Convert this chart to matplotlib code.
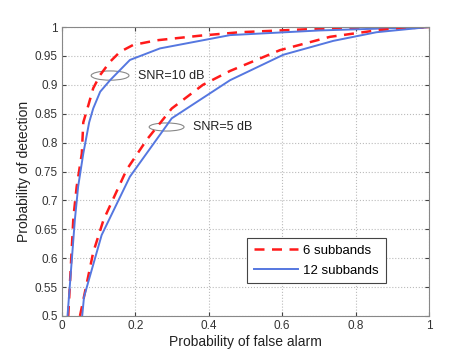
import matplotlib.pyplot as plt
from matplotlib.patches import Ellipse

# ROC curves
pf_10_6 = [0.017, 0.031, 0.04, 0.054, 0.058, 0.072, 0.085, 0.104, 0.131, 0.158, 0.194, 0.258, 0.376, 0.485, 0.7, 1.0]
pd_10_6 = [0.5, 0.67, 0.724, 0.781, 0.835, 0.865, 0.894, 0.917, 0.94, 0.957, 0.969, 0.977, 0.985, 0.991, 0.997, 1.0]
pf_10_12 = [0.015, 0.035, 0.044, 0.058, 0.074, 0.085, 0.104, 0.131, 0.185, 0.267, 0.458, 0.7, 1.0]
pd_10_12 = [0.5, 0.666, 0.724, 0.781, 0.835, 0.859, 0.888, 0.908, 0.943, 0.963, 0.986, 0.994, 1.0]
pf_5_6 = [0.049, 0.085, 0.113, 0.176, 0.231, 0.299, 0.384, 0.458, 0.594, 0.73, 0.866, 1.0]
pd_5_6 = [0.5, 0.61, 0.666, 0.753, 0.805, 0.859, 0.9, 0.924, 0.96, 0.983, 0.995, 1.0]
pf_5_12 = [0.055, 0.06, 0.108, 0.185, 0.299, 0.458, 0.603, 0.739, 0.857, 1.0]
pd_5_12 = [0.5, 0.533, 0.64, 0.741, 0.842, 0.908, 0.952, 0.976, 0.991, 1.0]

red = '#ff1a1a'
blue = '#5577e0'
grey = '#888888'

plt.rcParams['font.family'] = 'Liberation Sans'
fig = plt.figure(figsize=(4.74, 3.55), dpi=100)
ax = fig.add_axes([0.1308, 0.1099, 0.7743, 0.814])

ax.plot(pf_10_6, pd_10_6, '--', color=red, lw=1.8, dashes=(4, 3), label='6 subbands')
ax.plot(pf_10_12, pd_10_12, '-', color=blue, lw=1.4, label='12 subbands')
ax.plot(pf_5_6, pd_5_6, '--', color=red, lw=1.8, dashes=(4, 3))
ax.plot(pf_5_12, pd_5_12, '-', color=blue, lw=1.4)

ax.add_patch(Ellipse((0.131, 0.916), 0.103, 0.016, fill=False, ec=grey, lw=0.8))
ax.add_patch(Ellipse((0.285, 0.827), 0.095, 0.014, fill=False, ec=grey, lw=0.8))
ax.text(0.207, 0.916, 'SNR=10 dB', fontsize=9, va='center', color='#222222')
ax.text(0.357, 0.827, 'SNR=5 dB', fontsize=9, va='center', color='#222222')

ax.set_xlim(0, 1)
ax.set_ylim(0.5, 1)
ax.set_xticks([0, 0.2, 0.4, 0.6, 0.8, 1])
ax.set_xticklabels(['0', '0.2', '0.4', '0.6', '0.8', '1'])
ax.set_yticks([0.5, 0.55, 0.6, 0.65, 0.7, 0.75, 0.8, 0.85, 0.9, 0.95, 1])
ax.set_yticklabels(['0.5', '0.55', '0.6', '0.65', '0.7', '0.75', '0.8', '0.85', '0.9', '0.95', '1'])
ax.grid(True, ls=':', color='#bbbbbb', lw=0.8)
ax.tick_params(direction='in', top=True, right=True, labelsize=8.5, colors='#444444',
               labelcolor='#333333', length=3, pad=3)
for s in ax.spines.values():
    s.set_color('#888888')

ax.set_xlabel('Probability of false alarm', fontsize=10, color='#222222', labelpad=2)
ax.set_ylabel('Probability of detection', fontsize=10, color='#222222', labelpad=3)

leg = ax.legend(loc='lower right', bbox_to_anchor=(0.882, 0.113), fontsize=9.5,
                fancybox=False, framealpha=1, edgecolor='#444444', handlelength=3.3,
                handletextpad=0.45, borderpad=0.5, labelspacing=0.6, borderaxespad=0)
leg.get_frame().set_linewidth(0.8)

fig.savefig('out.png', dpi=100)
